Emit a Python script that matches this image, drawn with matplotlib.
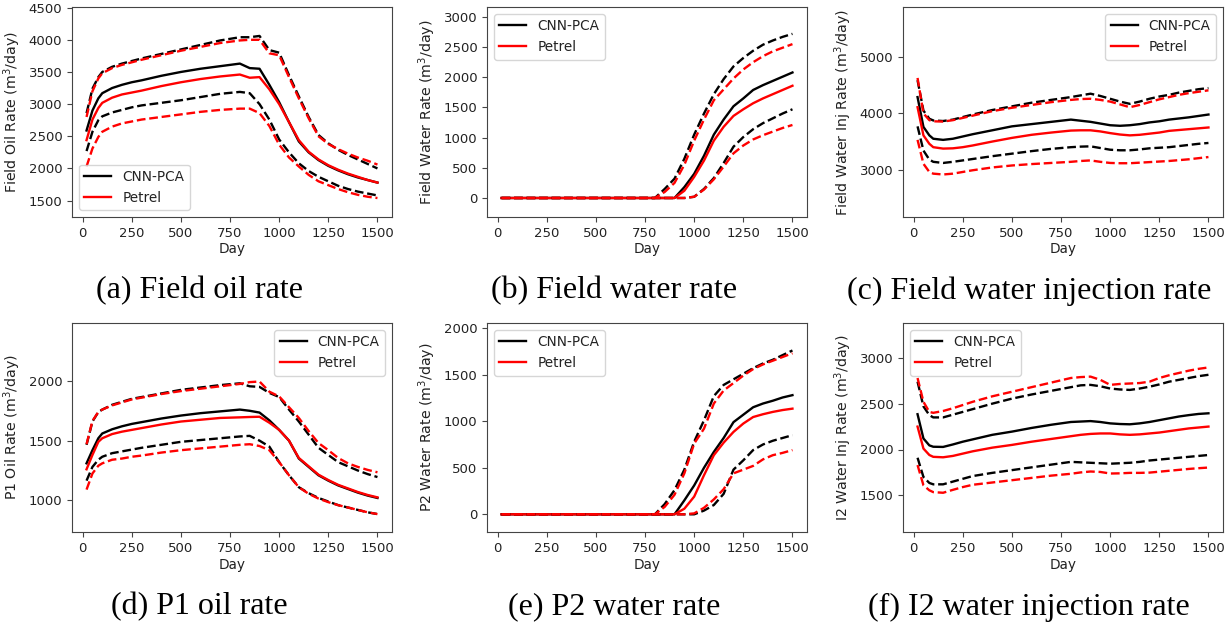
import matplotlib
matplotlib.use("Agg")
import matplotlib.pyplot as plt
import numpy as np

# ---------------- data ----------------
days = [20, 50, 80, 100, 150, 200, 250, 300, 400, 500, 600, 700, 800, 850, 900,
        950, 1000, 1050, 1100, 1150, 1200, 1250, 1300, 1350, 1400, 1450, 1500]

# (a) Field oil rate
a_cnn_mean = [2590, 2900, 3090, 3170, 3250, 3300, 3340, 3370, 3440, 3500, 3550, 3590, 3630, 3560, 3550,
              3300, 3030, 2720, 2420, 2250, 2130, 2040, 1970, 1910, 1860, 1820, 1780]
a_pet_mean = [2440, 2760, 2940, 3020, 3100, 3150, 3180, 3210, 3280, 3340, 3390, 3430, 3460, 3410, 3420,
              3230, 3000, 2720, 2440, 2260, 2140, 2050, 1980, 1920, 1870, 1820, 1780]
a_cnn_hi = [2860, 3240, 3420, 3500, 3580, 3630, 3670, 3710, 3780, 3850, 3920, 3990, 4040, 4040, 4060,
            3840, 3800, 3450, 3120, 2800, 2520, 2390, 2290, 2210, 2140, 2070, 2000]
a_pet_hi = [2800, 3200, 3400, 3480, 3560, 3610, 3650, 3690, 3760, 3830, 3890, 3950, 3990, 4000, 4000,
            3790, 3760, 3420, 3090, 2780, 2500, 2380, 2300, 2230, 2170, 2120, 2060]
a_cnn_lo = [2270, 2570, 2750, 2810, 2870, 2910, 2950, 2980, 3020, 3060, 3110, 3160, 3190, 3170, 3000,
            2760, 2450, 2250, 2080, 1960, 1870, 1800, 1730, 1680, 1640, 1610, 1580]
a_pet_lo = [2030, 2310, 2490, 2570, 2650, 2700, 2730, 2760, 2800, 2840, 2880, 2910, 2930, 2930, 2860,
            2660, 2370, 2170, 2030, 1900, 1800, 1740, 1680, 1630, 1590, 1560, 1540]

# (b) Field water rate
b_cnn_mean = [0] * 15 + [180, 400, 700, 1050, 1300, 1520, 1650, 1790, 1870, 1940, 2010, 2080]
b_pet_mean = [0] * 15 + [120, 350, 620, 950, 1180, 1360, 1470, 1570, 1650, 1720, 1790, 1860]
b_cnn_hi = [0] * 13 + [150, 320, 650, 1050, 1400, 1720, 1970, 2180, 2320, 2440, 2540, 2610, 2670, 2720]
b_pet_hi = [0] * 13 + [100, 250, 550, 950, 1300, 1620, 1800, 1980, 2130, 2250, 2350, 2430, 2490, 2550]
b_cnn_lo = [0] * 16 + [20, 150, 330, 580, 850, 1010, 1140, 1240, 1320, 1400, 1470]
b_pet_lo = [0] * 16 + [20, 140, 310, 520, 740, 870, 970, 1040, 1100, 1160, 1210]

# (c) Field water injection rate
c_cnn_mean = [4290, 3760, 3610, 3550, 3530, 3550, 3590, 3630, 3700, 3770, 3810, 3850, 3890, 3870, 3850,
              3820, 3790, 3780, 3790, 3810, 3840, 3860, 3890, 3910, 3930, 3955, 3980]
c_pet_mean = [4110, 3610, 3460, 3400, 3375, 3380, 3400, 3430, 3500, 3565, 3620, 3660, 3695, 3700, 3700,
              3680, 3650, 3625, 3610, 3620, 3640, 3660, 3690, 3705, 3720, 3735, 3750]
c_cnn_hi = [4590, 4050, 3905, 3875, 3865, 3890, 3935, 3980, 4060, 4125, 4190, 4240, 4290, 4320, 4350,
            4310, 4260, 4210, 4170, 4210, 4260, 4300, 4330, 4370, 4400, 4430, 4450]
c_pet_hi = [4630, 4000, 3880, 3860, 3855, 3880, 3920, 3960, 4040, 4100, 4150, 4200, 4240, 4255, 4260,
            4240, 4210, 4160, 4110, 4150, 4200, 4250, 4290, 4330, 4360, 4385, 4410]
c_cnn_lo = [3770, 3340, 3180, 3140, 3120, 3140, 3165, 3190, 3240, 3285, 3330, 3370, 3400, 3410, 3415,
            3385, 3355, 3345, 3345, 3360, 3380, 3390, 3400, 3420, 3440, 3460, 3475]
c_pet_lo = [3530, 3105, 2960, 2930, 2915, 2930, 2960, 2990, 3040, 3075, 3100, 3120, 3140, 3155, 3165,
            3140, 3120, 3115, 3115, 3125, 3135, 3145, 3155, 3170, 3185, 3205, 3225]

# (d) P1 oil rate
d_cnn_mean = [1310, 1420, 1520, 1560, 1595, 1620, 1640, 1655, 1685, 1710, 1730, 1745, 1760, 1750, 1735,
              1670, 1590, 1500, 1350, 1280, 1210, 1165, 1125, 1095, 1065, 1040, 1020]
d_pet_mean = [1260, 1380, 1490, 1520, 1555, 1575, 1590, 1605, 1635, 1660, 1675, 1690, 1695, 1698, 1700,
              1650, 1590, 1500, 1355, 1285, 1215, 1170, 1130, 1100, 1070, 1045, 1025]
d_cnn_hi = [1465, 1660, 1740, 1760, 1800, 1825, 1850, 1865, 1895, 1925, 1945, 1965, 1980, 1955, 1950,
            1900, 1865, 1760, 1660, 1550, 1440, 1380, 1320, 1285, 1250, 1220, 1195]
d_pet_hi = [1470, 1665, 1740, 1760, 1795, 1820, 1845, 1860, 1890, 1915, 1935, 1955, 1975, 1990, 1995,
            1910, 1870, 1780, 1690, 1580, 1480, 1420, 1355, 1310, 1280, 1255, 1235]
d_cnn_lo = [1165, 1280, 1340, 1365, 1395, 1410, 1425, 1440, 1465, 1490, 1505, 1520, 1535, 1540, 1500,
            1450, 1320, 1210, 1110, 1060, 1020, 990, 960, 940, 920, 900, 885]
d_pet_lo = [1090, 1225, 1290, 1310, 1340, 1350, 1365, 1375, 1400, 1420, 1435, 1450, 1465, 1470, 1455,
            1420, 1320, 1210, 1110, 1055, 1015, 985, 960, 940, 920, 900, 885]

# (e) P2 water rate
e_cnn_mean = [0] * 15 + [150, 310, 500, 670, 820, 990, 1070, 1150, 1190, 1220, 1255, 1280]
e_pet_mean = [0] * 15 + [60, 190, 420, 635, 770, 885, 975, 1045, 1075, 1100, 1120, 1135]
e_cnn_hi = [0] * 13 + [110, 260, 480, 780, 1010, 1270, 1390, 1450, 1510, 1570, 1620, 1660, 1710, 1760]
e_pet_hi = [0] * 13 + [80, 210, 440, 760, 920, 1190, 1330, 1410, 1490, 1560, 1610, 1650, 1690, 1730]
e_cnn_lo = [0] * 17 + [40, 100, 220, 480, 580, 690, 750, 790, 820, 850]
e_pet_lo = [0] * 16 + [10, 70, 160, 270, 440, 480, 520, 590, 635, 660, 690]

# (f) I2 water injection rate
f_cnn_mean = [2385, 2120, 2045, 2030, 2028, 2055, 2085, 2110, 2160, 2195, 2235, 2270, 2300, 2305, 2310,
              2300, 2285, 2278, 2275, 2285, 2300, 2320, 2340, 2360, 2375, 2388, 2395]
f_pet_mean = [2250, 2010, 1940, 1920, 1915, 1930, 1955, 1980, 2020, 2050, 2085, 2115, 2145, 2160, 2170,
              2175, 2175, 2165, 2160, 2165, 2175, 2185, 2200, 2215, 2230, 2240, 2250]
f_cnn_hi = [2740, 2470, 2375, 2350, 2350, 2380, 2410, 2440, 2500, 2555, 2600, 2640, 2680, 2700, 2705,
            2690, 2665, 2655, 2650, 2665, 2685, 2710, 2740, 2760, 2780, 2800, 2815]
f_pet_hi = [2780, 2520, 2410, 2400, 2420, 2450, 2485, 2520, 2580, 2630, 2680, 2730, 2780, 2790, 2795,
            2760, 2705, 2715, 2720, 2725, 2740, 2780, 2810, 2835, 2860, 2880, 2895]
f_cnn_lo = [1910, 1700, 1635, 1620, 1620, 1650, 1680, 1710, 1745, 1775, 1805, 1835, 1865, 1860, 1855,
            1850, 1845, 1850, 1855, 1865, 1880, 1890, 1900, 1910, 1920, 1930, 1940]
f_pet_lo = [1830, 1610, 1555, 1535, 1528, 1560, 1590, 1615, 1640, 1665, 1690, 1715, 1735, 1750, 1760,
            1755, 1738, 1740, 1745, 1745, 1748, 1758, 1768, 1778, 1788, 1796, 1803]

ylabels = ["Field Oil Rate (m$^3$/day)", "Field Water Rate (m$^3$/day)",
           "Field Water Inj Rate (m$^3$/day)", "P1 Oil Rate (m$^3$/day)",
           "P2 Water Rate (m$^3$/day)", "I2 Water Inj Rate (m$^3$/day)"]
captions = ["(a) Field oil rate", "(b) Field water rate", "(c) Field water injection rate",
            "(d) P1 oil rate", "(e) P2 water rate", "(f) I2 water injection rate"]
xticks = [0, 250, 500, 750, 1000, 1250, 1500]
yticks = [[1500, 2000, 2500, 3000, 3500, 4000, 4500],
          [0, 500, 1000, 1500, 2000, 2500, 3000],
          [3000, 4000, 5000],
          [1000, 1500, 2000],
          [0, 500, 1000, 1500, 2000],
          [1500, 2000, 2500, 3000]]
ylims = [(1245, 4510), (-315, 3165), (2160, 5890), (735, 2485), (-190, 2055), (1100, 3380)]
legend_locs = ["lower left", "upper left", "upper right", "upper right", "upper left", "upper left"]

panels = [
    (a_cnn_mean, a_pet_mean, a_cnn_hi, a_pet_hi, a_cnn_lo, a_pet_lo),
    (b_cnn_mean, b_pet_mean, b_cnn_hi, b_pet_hi, b_cnn_lo, b_pet_lo),
    (c_cnn_mean, c_pet_mean, c_cnn_hi, c_pet_hi, c_cnn_lo, c_pet_lo),
    (d_cnn_mean, d_pet_mean, d_cnn_hi, d_pet_hi, d_cnn_lo, d_pet_lo),
    (e_cnn_mean, e_pet_mean, e_cnn_hi, e_pet_hi, e_cnn_lo, e_pet_lo),
    (f_cnn_mean, f_pet_mean, f_cnn_hi, f_pet_hi, f_cnn_lo, f_pet_lo),
]

# ---------------- layout ----------------
W, H = 1232, 630
fig = plt.figure(figsize=(W / 100, H / 100), dpi=100)

col_lr = [(72, 392), (487, 807), (903, 1223)]
row_tb = [(7, 217), (323, 532)]
cap_x = [199, 614, 1029]
cap_y = [291, 607]

spine_col = "#444444"
text_col = "#222222"
LW = 1.7

for i, (cm, pm, ch, ph, cl, pl) in enumerate(panels):
    r, c = divmod(i, 3)
    l, rr = col_lr[c]
    t, b = row_tb[r]
    ax = fig.add_axes([l / W, 1 - b / H, (rr - l) / W, (b - t) / H])
    ax.plot(days, cm, color="black", lw=LW, label="CNN-PCA")
    ax.plot(days, pm, color="red", lw=LW, label="Petrel")
    ax.plot(days, ch, color="black", lw=LW, ls="--")
    ax.plot(days, cl, color="black", lw=LW, ls="--")
    ax.plot(days, ph, color="red", lw=LW, ls="--")
    ax.plot(days, pl, color="red", lw=LW, ls="--")
    ax.set_xlim(-54, 1574)
    ax.set_ylim(*ylims[i])
    ax.set_xticks(xticks)
    ax.set_yticks(yticks[i])
    ax.tick_params(labelsize=9.5, colors=text_col, color=spine_col)
    for s in ax.spines.values():
        s.set_color(spine_col)
    ax.set_xlabel("Day", fontsize=9.8, color=text_col, labelpad=2)
    ax.set_ylabel(ylabels[i], fontsize=10.2, color=text_col, labelpad=4)
    leg = ax.legend(loc=legend_locs[i], fontsize=9.8)
    for txt in leg.get_texts():
        txt.set_color(text_col)
    fig.text(cap_x[c] / W, 1 - cap_y[r] / H, captions[i], ha="center", va="center",
             fontsize=23, family="Liberation Serif", color="black")

fig.savefig("out.png", dpi=100)
